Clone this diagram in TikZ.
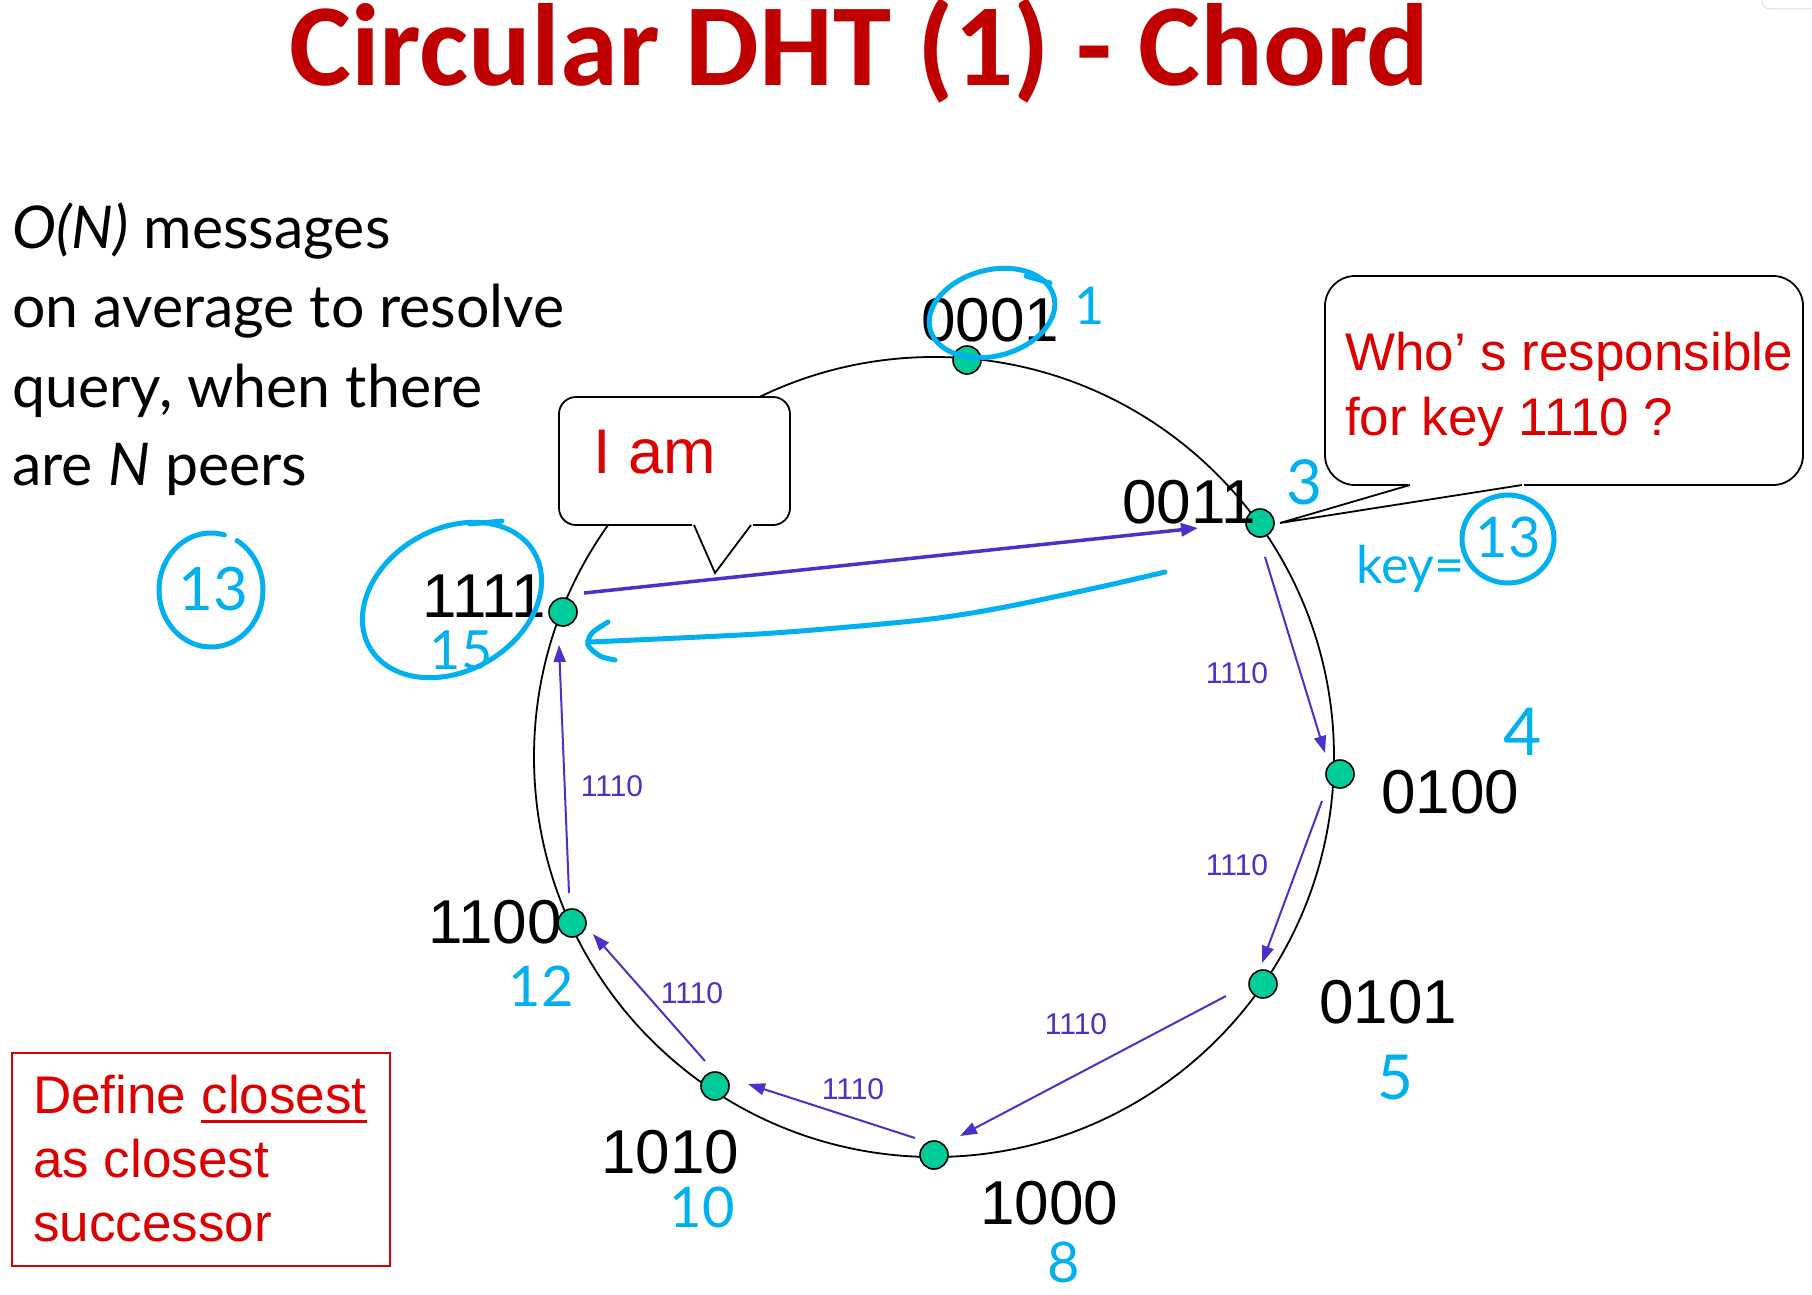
\documentclass[tikz,border=0pt]{standalone}
\usepackage{fontspec}
\setmainfont{Liberation Sans}
\newfontfamily\titlefont{Carlito}
\newfontfamily\bodyfont{Lato}
\newfontfamily\handfont{Lato}
\usetikzlibrary{calc,arrows.meta}

\definecolor{titlered}{HTML}{C00000}
\definecolor{callred}{HTML}{DD0000}
\definecolor{peergreen}{HTML}{00CC99}
\definecolor{msgblue}{HTML}{4634C8}
\definecolor{inkcyan}{HTML}{00B0F0}

\begin{document}
\begin{tikzpicture}[x=1pt, y=-1pt,
  peer/.style={circle, draw=black, line width=1.6pt, fill=peergreen, minimum size=28pt, inner sep=0pt},
  addr/.style={anchor=base west, inner sep=0pt, font=\fontsize{62}{64}\selectfont},
  msg/.style={draw=msgblue, line width=2pt, -{Triangle[length=17pt, width=12pt]}},
  reply/.style={draw=msgblue, line width=3.5pt, -{Triangle[length=17pt, width=13pt]}},
  hop/.style={text=msgblue, inner sep=0pt, font=\fontsize{30}{32}\selectfont},
  ink/.style={draw=inkcyan, line width=5pt, line cap=round, line join=round},
  inktext/.style={text=inkcyan, inner sep=0pt, font=\handfont\fontsize{#1}{#1}\selectfont},
  bubble/.style={draw=black, line width=1.8pt, fill=white},
  redtext/.style={text=callred, inner sep=0pt, anchor=base west, font=\fontsize{53}{60}\selectfont},
  bodytext/.style={anchor=base west, inner sep=0pt, font=\bodyfont\fontsize{59}{60}\selectfont},
]
\useasboundingbox[fill=white] (0,0) rectangle (1812,1295);

% slide tab in the corner
\draw[gray!25, line width=1pt, rounded corners=8pt] (1762,-20) rectangle (1830,9);

% title
\node[anchor=base west, inner sep=0pt, text=titlered,
      font=\titlefont\bfseries\fontsize{117}{120}\selectfont] (title) at (289,86)
  {Circular DHT (1) - Chord};

% explanation on the left
\node[bodytext] (t1) at (12,248) {\textit{O(N)} messages};
\node[bodytext] (t2) at (12,327) {on average to resolve};
\node[bodytext] (t3) at (12,407) {query, when there};
\node[bodytext] (t4) at (12,485) {are \textit{N} peers};

% the identifier ring
\draw[line width=1.8pt] (934,757) circle[radius=400pt];

% "I am" callout
\draw[bubble, rounded corners=17pt] (559,397) rectangle (790,525);
\fill[white] (692,522) rectangle (753,528);
\fill[white] (694,525) -- (715,573) -- (751,525) -- cycle;
\draw[line width=1.8pt] (694,525) -- (715,573) -- (751,525);
\node[redtext, font=\fontsize{63}{66}\selectfont] (iam) at (593,473) {I am};

% query callout
\draw[bubble, rounded corners=30pt] (1325,276) rectangle (1803,485);
\fill[white] (1408,482) rectangle (1524,488);
\fill[white] (1410,485) -- (1280,523) -- (1522,485) -- cycle;
\draw[line width=1.8pt] (1410,485) -- (1280,523) -- (1522,485);
\node[redtext] (q1) at (1345,370) {Who’ s responsible};
\node[redtext] (q2) at (1345,435) {for key 1110 ?};

% peers
\node[peer] (n0001) at (967,360) {};
\node[peer] (n0011) at (1260,523) {};
\node[peer] (n0100) at (1340,774) {};
\node[peer] (n0101) at (1263,984) {};
\node[peer] (n1000) at (934,1155) {};
\node[peer] (n1010) at (715,1086) {};
\node[peer] (n1100) at (572,923) {};
\node[peer] (n1111) at (563,612) {};

% peer identifiers
\node[addr] (a0001) at (921,341) {0001};
\node[addr] (a0011) at (1122,523) {0011};
\node[addr] (a0100) at (1381,813) {0100};
\node[addr] (a0101) at (1319,1023) {0101};
\node[addr] (a1000) at (980,1224) {1000};
\node[addr] (a1010) at (601,1173) {1010};
\node[addr] (a1100) at (428,943) {1100};
\node[addr] (a1111) at (422,617) {1111};

% lookup forwarded around the ring
\draw[msg] ($(n0011)+(5,34)$) -- ($(n0100)+(-15,-21)$);
\draw[msg] ($(n0100)+(-18,27)$) -- ($(n0101)+(-1,-21)$);
\draw[msg] ($(n0101)+(-37,12)$) -- ($(n1000)+(26,-19)$);
\draw[msg] ($(n1000)+(-19,-17)$) -- ($(n1010)+(33,-2)$);
\draw[msg] ($(n1010)+(-10,-25)$) -- ($(n1100)+(21,11)$);
\draw[msg] ($(n1100)+(-3,-30)$) -- ($(n1111)+(-4,33)$);
\draw[reply] ($(n1111)+(21,-19)$) -- ($(n0011)+(-62,5)$);

\node[hop] (h1) at (1237,673) {1110};
\node[hop] (h2) at (1237,865) {1110};
\node[hop] (h3) at (1076,1024) {1110};
\node[hop] (h4) at (853,1089) {1110};
\node[hop] (h5) at (692,993) {1110};
\node[hop] (h6) at (612,786) {1110};

% red note box
\draw[callred, line width=2.2pt] (12,1053) rectangle (390,1266);
\node[redtext] (d1) at (33,1113) {Define};
\node[redtext] (d1b) at ($(d1.base east)+(14.7,0)$) {closest};
\draw[callred, line width=3pt] ($(d1b.base west)+(0,8)$) -- ($(d1b.base east)+(0,8)$);
\node[redtext] (d2) at (33,1177) {as closest};
\node[redtext] (d3) at (33,1241) {successor};

% handwritten annotations
\draw[ink] plot[domain=0:360, samples=73, smooth]
  ({992+64*cos(\x)*cos(15)+43*sin(\x)*sin(15)}, {313-64*cos(\x)*sin(15)+43*sin(\x)*cos(15)});
\draw[ink] (1026,276) -- (1050,283);
\draw[ink] plot[domain=0:360, samples=73, smooth]
  ({452+95*cos(\x)*cos(30)+71*sin(\x)*sin(30)}, {600-95*cos(\x)*sin(30)+71*sin(\x)*cos(30)});
\draw[ink] (470,524) -- (502,521);
\draw[ink] plot[domain=-60:285, samples=70, smooth] ({211+52*cos(\x)}, {590+57*sin(\x)});
\draw[ink] plot[domain=0:360, samples=73, smooth] ({1508+46*cos(\x)}, {539+44*sin(\x)});

\node[inktext=52] (w1) at (1090,306) {1};
\node[inktext=62] (w3) at (1304,482) {3};
\node[inktext=52, anchor=base west] (wkey) at (1356,583) {key=};
\node[inktext=56] (wk13) at (1508,537) {13};
\node[inktext=66] (w4) at (1523,732) {4};
\node[inktext=62] (w5) at (1395,1078) {5};
\node[inktext=56] (w8) at (1064,1262) {8};
\node[inktext=56] (w10) at (702,1207) {10};
\node[inktext=56] (w12) at (541,986) {12};
\node[inktext=54] (w15) at (461,650) {15};
\node[inktext=60] (w13) at (213,589) {13};

% reply arrow drawn by hand
\draw[ink] plot[smooth] coordinates {(1165,572) (1100,587) (1000,608) (922,620) (788,632) (700,637) (590,642)};
\draw[ink] plot[smooth] coordinates {(608,622) (592,633) (588,645) (600,656) (615,660)};
\end{tikzpicture}
\end{document}
